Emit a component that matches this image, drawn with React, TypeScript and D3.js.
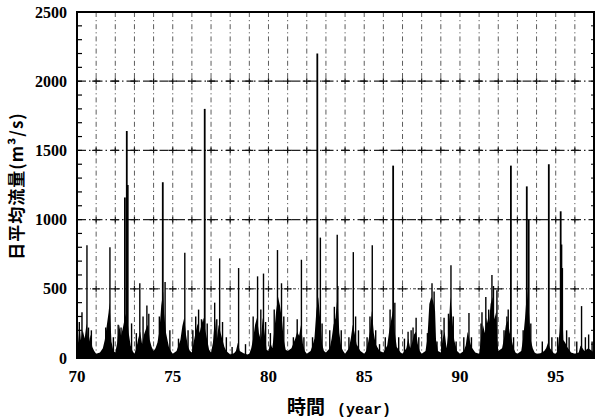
import React, { useEffect, useRef } from 'react';
import * as d3 from 'd3';

// Daily mean discharge record, 1970-1997 (years given as 70..97)
// Season envelope of the hydrograph: [year, m3/s]
const baseFlow: [number, number][] = [
  [70.0, 60], [70.05, 180], [70.1, 110], [70.15, 220], [70.2, 130], [70.3, 200], [70.4, 140], [70.5, 250], [70.55, 180], [70.6, 100], [70.7, 170], [70.8, 80], [70.9, 50],
  [71.0, 30], [71.2, 40], [71.35, 70], [71.45, 130], [71.55, 230], [71.65, 330], [71.7, 400], [71.75, 260], [71.8, 120], [71.9, 50],
  [72.0, 40], [72.1, 110], [72.2, 240], [72.3, 160], [72.4, 220], [72.5, 290], [72.6, 340], [72.7, 180], [72.8, 90], [72.9, 50],
  [73.0, 30], [73.1, 70], [73.2, 140], [73.3, 190], [73.4, 100], [73.5, 170], [73.6, 210], [73.7, 240], [73.8, 130], [73.9, 80],
  [74.0, 50], [74.1, 70], [74.2, 110], [74.3, 190], [74.4, 380], [74.5, 480], [74.55, 320], [74.65, 180], [74.8, 80], [74.9, 50],
  [75.0, 30], [75.2, 50], [75.4, 130], [75.5, 230], [75.6, 290], [75.7, 160], [75.8, 80], [75.9, 50],
  [76.0, 40], [76.1, 120], [76.2, 190], [76.3, 250], [76.4, 180], [76.5, 240], [76.6, 290], [76.7, 200], [76.8, 130], [76.9, 60],
  [77.0, 40], [77.1, 110], [77.2, 290], [77.3, 130], [77.4, 240], [77.5, 180], [77.6, 130], [77.7, 80], [77.8, 50],
  [78.0, 25], [78.2, 35], [78.3, 50], [78.4, 110], [78.5, 50], [78.7, 35], [78.9, 25],
  [79.0, 30], [79.1, 70], [79.2, 140], [79.3, 240], [79.4, 290], [79.5, 180], [79.6, 130], [79.7, 290], [79.8, 180], [79.9, 60],
  [80.0, 50], [80.1, 110], [80.2, 70], [80.3, 190], [80.4, 340], [80.5, 440], [80.6, 380], [80.7, 280], [80.8, 130], [80.9, 60],
  [81.0, 50], [81.2, 70], [81.4, 140], [81.5, 190], [81.6, 160], [81.7, 240], [81.8, 100], [81.9, 50],
  [82.0, 30], [82.2, 50], [82.3, 90], [82.4, 140], [82.5, 340], [82.6, 440], [82.7, 280], [82.8, 100], [82.9, 50],
  [83.0, 40], [83.2, 70], [83.3, 140], [83.4, 240], [83.5, 290], [83.6, 440], [83.7, 180], [83.8, 80], [83.9, 50],
  [84.0, 30], [84.2, 70], [84.3, 140], [84.4, 240], [84.5, 180], [84.6, 100], [84.8, 50],
  [85.0, 30], [85.1, 50], [85.2, 110], [85.3, 190], [85.4, 340], [85.5, 180], [85.6, 100], [85.8, 50],
  [86.0, 40], [86.2, 90], [86.3, 190], [86.4, 270], [86.5, 340], [86.6, 180], [86.7, 80], [86.9, 40],
  [87.0, 30], [87.2, 70], [87.3, 140], [87.4, 70], [87.5, 110], [87.6, 170], [87.7, 190], [87.8, 100], [87.9, 50],
  [88.0, 30], [88.2, 50], [88.3, 140], [88.4, 390], [88.5, 440], [88.6, 410], [88.7, 340], [88.75, 130], [88.85, 50],
  [89.0, 40], [89.1, 140], [89.2, 190], [89.3, 70], [89.4, 190], [89.5, 440], [89.6, 280], [89.7, 130], [89.85, 50],
  [90.0, 30], [90.2, 50], [90.3, 90], [90.4, 190], [90.5, 130], [90.6, 80], [90.8, 40],
  [91.0, 30], [91.1, 140], [91.2, 240], [91.3, 180], [91.4, 290], [91.5, 230], [91.6, 390], [91.7, 440], [91.8, 280], [91.9, 340], [91.95, 130],
  [92.0, 50], [92.2, 70], [92.3, 140], [92.4, 240], [92.5, 270], [92.6, 180], [92.7, 130], [92.8, 70], [92.9, 40],
  [93.0, 30], [93.2, 50], [93.3, 140], [93.4, 290], [93.5, 490], [93.6, 340], [93.7, 130], [93.8, 70], [93.9, 40],
  [94.0, 30], [94.2, 35], [94.4, 50], [94.5, 70], [94.6, 110], [94.7, 70], [94.9, 35],
  [95.0, 30], [95.1, 50], [95.2, 190], [95.3, 440], [95.35, 340], [95.4, 130], [95.5, 110], [95.6, 80], [95.8, 40],
  [96.0, 30], [96.2, 40], [96.3, 90], [96.4, 70], [96.5, 50], [96.7, 70], [96.9, 50], [97.0, 40],
];

// Flood peaks (daily spikes): [year, m3/s]
const floodPeaks: [number, number][] = [
  [70.12, 260], [70.26, 330], [70.52, 815], [70.6, 220], [70.75, 200],
  [71.5, 220], [71.72, 800], [71.9, 150],
  [72.15, 240], [72.3, 220], [72.5, 1160], [72.6, 1640], [72.65, 1250], [72.85, 250],
  [73.1, 180], [73.28, 540], [73.45, 300], [73.65, 380], [73.75, 320],
  [74.3, 300], [74.48, 1270], [74.6, 550], [74.85, 200],
  [75.3, 140], [75.63, 760], [75.8, 200],
  [76.05, 200], [76.2, 300], [76.35, 350], [76.5, 280], [76.67, 1800], [76.8, 250],
  [77.19, 400], [77.3, 280], [77.45, 720], [77.6, 260], [77.8, 150],
  [78.1, 80], [78.44, 650], [78.8, 100],
  [79.2, 300], [79.43, 590], [79.6, 350], [79.74, 610], [79.85, 260],
  [80.1, 180], [80.3, 350], [80.47, 780], [80.68, 540], [80.8, 300],
  [81.3, 150], [81.5, 280], [81.72, 710], [81.85, 150],
  [82.3, 150], [82.55, 2200], [82.71, 870], [82.8, 250],
  [83.2, 200], [83.44, 370], [83.59, 890], [83.62, 520], [83.8, 200],
  [84.2, 150], [84.43, 765], [84.55, 300], [84.7, 200],
  [85.15, 150], [85.3, 300], [85.42, 815], [85.6, 200], [85.8, 100],
  [86.1, 150], [86.35, 350], [86.51, 1390], [86.6, 400], [86.8, 150],
  [87.1, 140], [87.29, 190], [87.45, 200], [87.55, 220], [87.71, 290], [87.85, 150],
  [88.3, 180], [88.54, 540], [88.65, 480], [88.8, 120],
  [89.05, 200], [89.17, 290], [89.4, 320], [89.53, 670], [89.65, 300], [89.8, 120],
  [90.2, 150], [90.47, 325], [90.6, 150],
  [91.1, 250], [91.15, 330], [91.35, 440], [91.5, 350], [91.67, 600], [91.75, 520], [91.93, 490],
  [92.3, 200], [92.45, 300], [92.52, 350], [92.66, 1390], [92.8, 150],
  [93.3, 200], [93.49, 1240], [93.59, 1000], [93.7, 250],
  [94.3, 120], [94.64, 1400], [94.8, 150],
  [95.1, 150], [95.26, 1060], [95.31, 820], [95.35, 650], [95.57, 200], [95.7, 150],
  [96.1, 120], [96.35, 375], [96.55, 150], [96.72, 170], [96.9, 120],
];

const yearTicks = [70, 75, 80, 85, 90, 95];
const flowTicks = [0, 500, 1000, 1500, 2000, 2500];
const xTitle = '時間';
const xUnit = '(year)';
const yTitle = '日平均流量(m³/s)';

const App = () => {
  const svgRef = useRef<SVGSVGElement | null>(null);

  useEffect(() => {
    if (!svgRef.current) return;
    const svg = d3.select(svgRef.current);
    svg.selectAll('*').remove();

    const width = 599;
    const height = 420;
    const margin = { top: 12, right: 5, bottom: 62, left: 77 };
    const innerW = width - margin.left - margin.right;
    const innerH = height - margin.top - margin.bottom;

    const x = d3.scaleLinear().domain([70, 97]).range([0, innerW]);
    const y = d3.scaleLinear().domain([0, 2500]).range([innerH, 0]);

    const g = svg.append('g').attr('transform', `translate(${margin.left},${margin.top})`);

    // Grid: vertical lines every year, horizontal every 500
    const grid = g.append('g').attr('class', 'grid');
    d3.range(71, 97).forEach((yr) => {
      grid.append('line')
        .attr('x1', x(yr)).attr('x2', x(yr))
        .attr('y1', 0).attr('y2', innerH)
        .attr('stroke', '#333')
        .attr('stroke-width', 0.8)
        .attr('stroke-dasharray', '5,3,1.2,3');
    });
    [500, 1000, 1500, 2000].forEach((v) => {
      grid.append('line')
        .attr('x1', 0).attr('x2', innerW)
        .attr('y1', y(v)).attr('y2', y(v))
        .attr('stroke', '#222')
        .attr('stroke-width', v === 500 ? 0.9 : 1.2)
        .attr('stroke-dasharray', v === 500 ? '3,2,1,2' : '9,3,1.5,3');
      // small crosses where grid lines meet
      d3.range(71, 97).forEach((yr) => {
        grid.append('path')
          .attr('d', `M${x(yr) - 4},${y(v)}H${x(yr) + 4}M${x(yr)},${y(v) - 3}V${y(v) + 3}`)
          .attr('stroke', '#111')
          .attr('stroke-width', 1.2);
      });
    });

    // Hydrograph envelope
    const area = d3.area<[number, number]>()
      .x((d) => x(d[0]))
      .y0(innerH)
      .y1((d) => y(d[1]));
    g.append('path')
      .datum(baseFlow)
      .attr('d', area)
      .attr('fill', '#000');

    // Flood spikes
    g.append('g').selectAll('line')
      .data(floodPeaks)
      .join('line')
      .attr('x1', (d) => x(d[0])).attr('x2', (d) => x(d[0]))
      .attr('y1', innerH)
      .attr('y2', (d) => y(d[1]))
      .attr('stroke', '#000')
      .attr('stroke-width', (d) => (d[1] > 900 ? 1.8 : 1.4));

    // Minor ticks on left and right axes
    const minor = d3.range(100, 2500, 100);
    g.append('g').selectAll('line.ml')
      .data(minor)
      .join('line')
      .attr('x1', 0).attr('x2', 5)
      .attr('y1', (d) => y(d)).attr('y2', (d) => y(d))
      .attr('stroke', '#000').attr('stroke-width', 1.2);
    g.append('g').selectAll('line.mr')
      .data(minor)
      .join('line')
      .attr('x1', innerW).attr('x2', innerW - 3)
      .attr('y1', (d) => y(d)).attr('y2', (d) => y(d))
      .attr('stroke', '#000').attr('stroke-width', 1);

    // Frame
    g.append('rect')
      .attr('x', 0).attr('y', 0)
      .attr('width', innerW).attr('height', innerH)
      .attr('fill', 'none')
      .attr('stroke', '#000')
      .attr('stroke-width', 2);

    const numFont = '"Liberation Serif", "Times New Roman", serif';

    // Y tick labels
    g.append('g').selectAll('text')
      .data(flowTicks)
      .join('text')
      .attr('x', -10)
      .attr('y', (d) => y(d))
      .attr('dy', '0.35em')
      .attr('text-anchor', 'end')
      .attr('font-family', numFont)
      .attr('font-weight', 'bold')
      .attr('font-size', 16)
      .text((d) => d);

    // X tick labels
    g.append('g').selectAll('text')
      .data(yearTicks)
      .join('text')
      .attr('x', (d) => x(d))
      .attr('y', innerH + 24)
      .attr('text-anchor', 'middle')
      .attr('font-family', numFont)
      .attr('font-weight', 'bold')
      .attr('font-size', 17)
      .text((d) => d);

    // X axis title
    const xt = svg.append('text')
      .attr('x', 287)
      .attr('y', 414)
      .attr('font-weight', 'bold');
    xt.append('tspan')
      .attr('font-family', '"Noto Sans CJK JP", sans-serif')
      .attr('font-size', 19)
      .text(xTitle);
    xt.append('tspan')
      .attr('dx', 12)
      .attr('font-family', '"Liberation Mono", monospace')
      .attr('font-size', 15)
      .text(xUnit);

    // Y axis title
    svg.append('text')
      .attr('transform', 'translate(23,186) rotate(-90)')
      .attr('text-anchor', 'middle')
      .attr('font-family', '"Noto Sans CJK JP", sans-serif')
      .attr('font-weight', 'bold')
      .attr('font-size', 17)
      .attr('letter-spacing', 1)
      .text(yTitle);
  }, []);

  return (
    <svg
      ref={svgRef}
      width={599}
      height={420}
      style={{ position: 'absolute', left: 0, top: 0, background: '#fff' }}
    />
  );
};

export default App;
